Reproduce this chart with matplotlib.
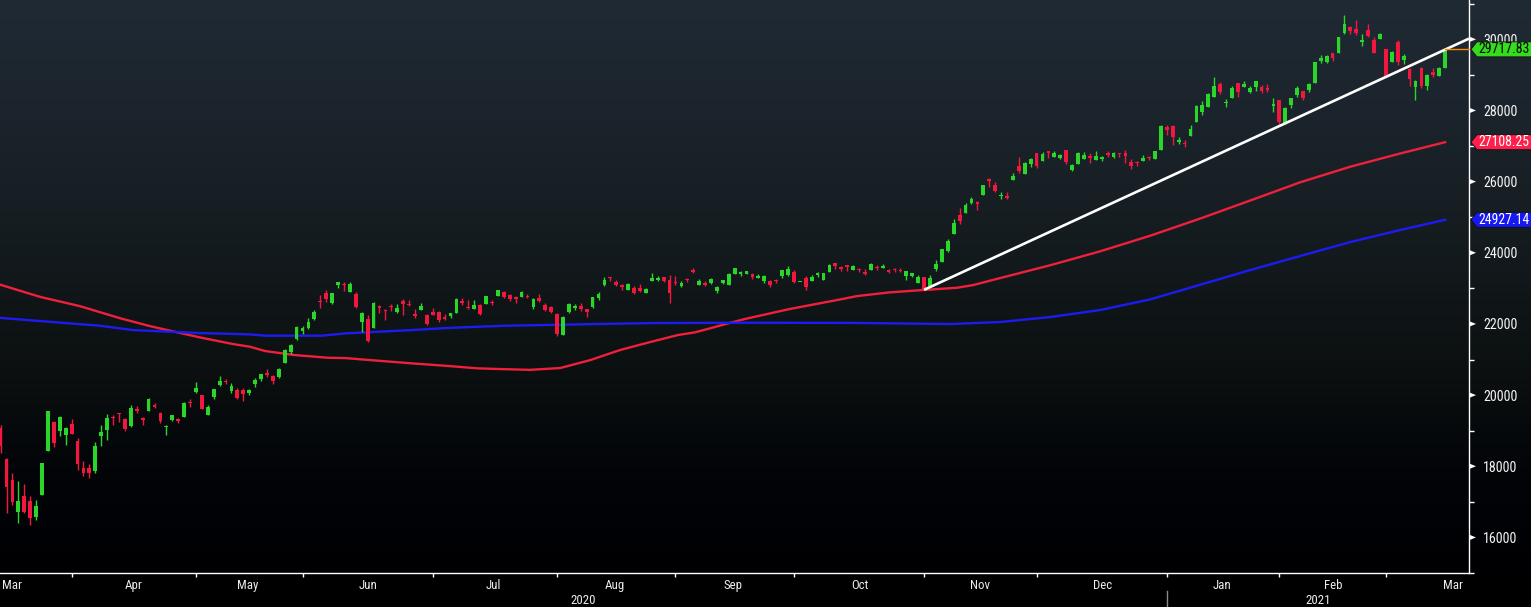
import numpy as np
import matplotlib
matplotlib.use("Agg")
import matplotlib.pyplot as plt
from matplotlib import font_manager
from matplotlib.patches import Polygon
from matplotlib.transforms import blended_transform_factory

# ---------------- data (trading-day index 0 = 12 Mar 2020 ... 244 = 12 Mar 2021) -------------
opens = [19080, 18200, 17600, 16712, 17162, 17022, 16582, 17200, 18435, 19240, 18990, 18875, 19185,
         18708, 17950, 17950, 17865, 18850, 19020, 19383, 19500, 19330, 19130, 19610, 19360, 19550,
         19730, 19500, 19100, 19290, 19340, 19380, 19800, 20080,
         20000, 19440, 19940, 20280, 20410, 20110, 20140, 20140, 20050, 20300, 20450, 20620, 20530,
         20500, 20910, 21210, 21575, 21790,
         21884, 22137, 22643, 22868, 22587, 23093, 23121, 22896, 22840, 22053, 22137, 21884, 22503,
         22390, 22503, 22334, 22643, 22560, 22278, 22390, 22250, 22334,
         22334, 22194, 22222, 22306, 22643, 22475, 22418, 22531, 22559, 22615, 22785, 22897, 22813,
         22756, 22756, 22784, 22475, 22728, 22531, 22475, 22279,
         21700, 22335, 22447, 22503, 22419, 22475, 22728, 23094, 23319, 23178, 23094, 22953, 23010,
         23010, 22869, 23206, 23234, 23319, 23234, 23150,
         23066, 23262, 23515, 23094, 23150, 23150, 22925, 23150, 23094, 23403, 23400, 23402, 23402,
         23290, 23206, 23206, 23234, 23346, 23374, 23458,
         23185, 23290, 23206, 23374, 23234, 23458, 23711, 23571, 23655, 23515, 23543, 23458, 23515,
         23599, 23571, 23515, 23543, 23515, 23346, 23346, 23150, 23318,
         23066, 23543, 23740, 24049, 24527, 25061, 25117, 25398, 25398, 25623, 26060, 25900, 25600,
         25600, 26045, 26438, 26214, 26495, 26804,
         26579, 26860, 26691, 26663, 26888, 26326, 26495, 26635, 26720, 26607, 26636, 26804, 26691,
         26790, 26804, 26551, 26551, 26579, 26691, 26635, 26888, 27535,
         27563, 27113, 27085, 27282, 27675, 27956, 28097, 28378, 28743, 28200, 28350, 28772, 28659,
         28519, 28659, 28659, 28631, 28125, 28294,
         27620, 28153, 28434, 28547, 28575, 28772, 29390, 29362, 29615, 29615, 30177, 30346, 30290,
         29924, 30262, 29980, 30009, 29728,
         29362, 29924, 29418, 29165, 28659, 29193, 28687, 29081, 28969, 29193]
highs = [19160, 18220, 17800, 17584, 17500, 17162, 17050, 18100, 19564, 19260, 19400, 19100, 19336,
         18790, 18160, 18050, 18680, 19150, 19470, 19440, 19510, 19360, 19720, 19680, 19383, 19920,
         19790, 19530, 19160, 19440, 19370, 19800, 19880, 20370,
         20010, 19720, 20180, 20530, 20450, 20330, 20200, 20200, 20180, 20470, 20600, 20720, 20560,
         20750, 21290, 21440, 21930, 21941,
         22165, 22390, 22812, 22952, 22870, 23180, 23177, 23177, 22896, 22334, 22250, 22615, 22531,
         22418, 22559, 22559, 22700, 22671, 22418, 22587, 22278, 22447,
         22362, 22278, 22306, 22728, 22728, 22671, 22671, 22559, 22784, 22671, 22953, 22925, 22840,
         22784, 22925, 22840, 22728, 22840, 22587, 22503, 22300,
         22230, 22590, 22560, 22590, 22420, 22760, 22897, 23318, 23320, 23234, 23122, 23150, 23066,
         23122, 23010, 23431, 23347, 23330, 23375, 23347,
         23206, 23290, 23571, 23262, 23206, 23290, 23066, 23240, 23420, 23571, 23480, 23487, 23430,
         23402, 23374, 23234, 23262, 23515, 23627, 23515,
         23185, 23346, 23374, 23458, 23420, 23683, 23711, 23627, 23655, 23655, 23571, 23543, 23711,
         23655, 23683, 23543, 23571, 23571, 23487, 23430, 23374, 23318,
         23374, 23795, 24105, 24390, 24950, 25258, 25398, 25567, 25455, 25910, 26100, 26000, 25700,
         25700, 26242, 26691, 26550, 26663, 26804,
         26832, 26860, 26860, 26776, 26888, 26495, 26832, 26832, 26804, 26860, 26720, 26860, 26832,
         26804, 26888, 26635, 26579, 26748, 26720, 26860, 27591, 27591,
         27591, 27254, 27170, 27591, 28150, 28265, 28490, 28940, 28800, 28322, 28688, 28772, 28828,
         28688, 28800, 28716, 28744, 28350, 28294,
         28097, 28350, 28687, 28547, 28772, 29362, 29559, 29559, 29615, 30065, 30683, 30374, 30543,
         30149, 30430, 30065, 30177, 29728,
         29671, 29980, 29587, 29193, 28856, 29221, 29025, 29193, 29221, 29699]
lows = [18360, 16690, 16920, 16411, 16680, 16358, 16490, 17180, 18420, 18530, 18860, 18600, 18903,
        17900, 17740, 17660, 17810, 18560, 18740, 19160, 19240, 19000, 19100, 19500, 19160, 19540,
        19650, 19230, 18880, 19280, 19220, 19380, 19660, 20050,
        19600, 19430, 19880, 20250, 20320, 20050, 19890, 19840, 20000, 20240, 20400, 20500, 20300,
        20480, 20900, 21160, 21560, 21716,
        21870, 22110, 22447, 22615, 22559, 23009, 22924, 22896, 22447, 21772, 21491, 21884, 22306,
        22109, 22362, 22306, 22250, 22500, 22165, 22390, 21969, 22250,
        22053, 22109, 22165, 22306, 22531, 22418, 22418, 22250, 22559, 22531, 22784, 22728, 22643,
        22587, 22756, 22728, 22420, 22616, 22363, 22307, 21650,
        21680, 22300, 22390, 22363, 22195, 22460, 22673, 23080, 23206, 23066, 22954, 22953, 22841,
        22897, 22869, 23206, 23206, 23178, 22588, 23094,
        23038, 23178, 23431, 23094, 23066, 23122, 22869, 23122, 23090, 23403, 23347, 23402, 23262,
        23290, 23150, 23037, 23150, 23290, 23346, 23150,
        23185, 22953, 23206, 23318, 23234, 23458, 23543, 23487, 23487, 23515, 23458, 23374, 23515,
        23515, 23571, 23430, 23458, 23458, 23234, 23318, 23150, 22948,
        23037, 23487, 23740, 24021, 24527, 24808, 25117, 25370, 25201, 25623, 25850, 25700, 25500,
        25500, 26045, 26242, 26214, 26410, 26382,
        26579, 26663, 26691, 26636, 26495, 26298, 26495, 26635, 26523, 26607, 26579, 26691, 26663,
        26691, 26523, 26354, 26438, 26579, 26600, 26635, 26888, 27310,
        27028, 27057, 26972, 27282, 27675, 27872, 28097, 28378, 28462, 28097, 28350, 28378, 28659,
        28491, 28547, 28491, 28519, 27956, 27620,
        27620, 28069, 28378, 28294, 28519, 28772, 29334, 29334, 29390, 29615, 30149, 30149, 30121,
        29812, 30065, 29615, 30009, 28969,
        29362, 29278, 29306, 28688, 28294, 28631, 28575, 28941, 28969, 29193]
closes = [18559, 17431, 17002, 17011, 16726, 16552, 16887, 18092, 19546, 18664, 19389, 19084, 18917,
          18065, 17818, 17820, 18576, 18950, 19353, 19345, 19470, 19043, 19638, 19550, 19290, 19897,
          19669, 19280, 19137, 19429, 19262, 19783, 19771, 20193,
          19619, 19674, 20179, 20390, 20366, 20267, 19915, 20037, 20133, 20433, 20595, 20552, 20388,
          20741, 21271, 21419, 21916, 21877,
          22062, 22325, 22613, 22695, 22863, 23178, 23091, 23124, 22473, 22305, 21530, 22582, 22455,
          22355, 22479, 22437, 22549, 22534, 22222, 22512, 21995, 22250,
          22122, 22145, 22306, 22714, 22587, 22438, 22529, 22291, 22784, 22587, 22945, 22770, 22696,
          22700, 22884, 22751, 22715, 22657, 22397, 22339, 21710,
          22195, 22573, 22514, 22418, 22329, 22750, 22843, 23249, 23289, 23096, 23051, 23110, 22880,
          22920, 22985, 23296, 23290, 23208, 22882, 23139,
          23138, 23247, 23465, 23205, 23089, 23274, 23032, 23235, 23406, 23559, 23454, 23475, 23319,
          23360, 23346, 23087, 23204, 23511, 23539, 23185,
          23185, 23029, 23312, 23433, 23422, 23647, 23619, 23558, 23601, 23626, 23507, 23410, 23671,
          23567, 23639, 23474, 23516, 23494, 23485, 23418, 23331, 22977,
          23295, 23695, 24105, 24325, 24839, 24905, 25349, 25520, 25385, 25906, 26014, 25728, 25634,
          25527, 26165, 26297, 26537, 26644, 26434,
          26787, 26800, 26809, 26751, 26547, 26467, 26817, 26756, 26652, 26732, 26687, 26757, 26806,
          26763, 26714, 26436, 26524, 26668, 26656, 26854, 27568, 27444,
          27258, 27158, 27055, 27490, 28139, 28164, 28456, 28698, 28519, 28242, 28633, 28523, 28757,
          28631, 28822, 28546, 28575, 28181, 27663,
          28069, 28350, 28631, 28341, 28744, 29362, 29475, 29531, 29475, 30065, 30430, 30234, 30177,
          29980, 30093, 29615, 30149, 28969,
          29643, 29362, 29531, 28884, 28828, 28687, 28997, 28997, 29193, 29717.83]

# 100-day (red) and 200-day (blue) moving averages
red_ma_idx = [0, 6.7, 13.4, 20.2, 25.2, 28.1, 33.7, 39.3, 42.1, 44.7, 49.7, 55.3, 58.2, 63.8, 69.5,
              75.1, 80.6, 84.4, 89.4, 94.5, 99.6, 104.6, 109.7, 114.4, 117.3, 120.2, 122.9, 125.7,
              133.3, 141.3, 144.7, 150.2, 155.8, 161.6, 164.3, 167.1, 177.3, 185.7, 194.2, 202.6,
              211.1, 219.5, 228, 236.4, 244]
red_ma_val = [23100, 22760, 22500, 22160, 21940, 21830, 21620, 21434, 21360, 21238, 21125, 21050,
              21041, 20966, 20892, 20825, 20752, 20732, 20710, 20760, 20984, 21265, 21490, 21688,
              21764, 21893, 22017, 22138, 22420, 22672, 22784, 22888, 22953, 23018, 23093, 23215,
              23650, 24040, 24480, 24960, 25470, 25980, 26420, 26790, 27108.25]
blue_ma_idx = [0, 8.3, 16.8, 22.4, 33.7, 42.1, 44.7, 54.3, 58.2, 63.8, 69.5, 75.1, 80.6, 85.2,
               100.4, 110.5, 125.7, 143.5, 160.4, 168.8, 177.3, 185.7, 194.2, 202.6, 211.1, 219.5,
               228, 236.4, 244]
blue_ma_val = [22170, 22060, 21950, 21827, 21744, 21707, 21670, 21670, 21735, 21781, 21828, 21884,
               21921, 21949, 21997, 22025, 22034, 22030, 21997, 22053, 22194, 22390, 22690, 23100,
               23515, 23908, 24302, 24640, 24927.14]

trend_idx = [156, 248.04]
trend_val = [22960, 30020]

month_labels = ['Mar', 'Apr', 'May', 'Jun', 'Jul', 'Aug', 'Sep', 'Oct', 'Nov', 'Dec', 'Jan', 'Feb', 'Mar']
year_labels = ['2020', '2021']
yticks_major = [16000, 18000, 20000, 22000, 24000, 26000, 28000, 30000]
yticks_minor = [15000, 17000, 19000, 21000, 23000, 25000, 27000, 29000, 31000]
last_price = 29717.83
red_ma_last = 27108.25
blue_ma_last = 24927.14

# ---------------- layout -------------
W, H = 1531, 607
AX_R = 1469
AX_B = 573
month_tick_pos = [12, 33, 51, 73, 94, 114, 134, 156, 175, 197, 216, 234]
month_label_pos = [2, 22.4, 41.8, 62.1, 83.3, 103.8, 123.7, 145.2, 165.4, 186.1, 206.3, 225.1, 245.3]
year_sep = 197
XMIN, XMAX = -0.1, 248.04
YMIN, YMAX = 15000, 31105

GREEN = '#2ad62a'
RED = '#f2173f'
MA_RED = '#f0203c'
MA_BLUE = '#1c1cf2'

fig = plt.figure(figsize=(W / 100, H / 100), dpi=100)
fig.patch.set_facecolor('black')
renderer = fig.canvas.get_renderer()


def pick_font():
    names = {f.name for f in font_manager.fontManager.ttflist}
    for n in ['Liberation Sans Narrow', 'Arial Narrow', 'Roboto Condensed', 'Noto Sans Condensed',
              'Open Sans Condensed', 'DejaVu Sans Condensed']:
        if n in names:
            return dict(family=n)
    for f in font_manager.fontManager.ttflist:
        if f.name in ('DejaVu Sans', 'Noto Sans', 'Roboto', 'Open Sans') and \
                'condensed' in str(f.stretch) and f.weight in (400, 'normal', 'regular'):
            return dict(family=f.name, stretch='condensed')
    return dict(family='DejaVu Sans')


FONT = pick_font()


def fit_size(sample, target_px, max_size):
    t = fig.text(0, 0, sample, fontproperties=font_manager.FontProperties(**FONT, size=10))
    w = t.get_window_extent(renderer).width
    t.remove()
    return min(max_size, 10 * target_px / w)


FS_TICK = fit_size('28000', 34, 11)
FS_TAG = fit_size('29717.83', 51, 11)
FS_MONTH = fit_size('Mar', 20, 10.6)

# background gradient
bg = fig.add_axes([0, 0, 1, 1], zorder=0)
bg.set_axis_off()
rows = np.arange(H)
stop_y = [0, 100, 200, 300, 380, 430, 480, 573]
stop_c = np.array([[32, 42, 52], [28, 37, 45], [23, 31, 36], [16, 22, 24], [11, 15, 16],
                   [6, 9, 11], [2, 4, 8], [0, 0, 2]], float)
img = np.zeros((H, 1, 3))
for c in range(3):
    img[:, 0, c] = np.interp(rows, stop_y, stop_c[:, c]) / 255.0
img[AX_B:] = 0
bg.imshow(img, aspect='auto', extent=[0, 1, 0, 1], interpolation='bilinear')
bg.set_xlim(0, 1)
bg.set_ylim(0, 1)

ax = fig.add_axes([0, (H - AX_B) / H, AX_R / W, AX_B / H], zorder=1)
ax.set_facecolor('none')
ax.set_xlim(XMIN, XMAX)
ax.set_ylim(YMIN, YMAX)

O = np.array(opens, float)
Hh = np.array(highs, float)
L = np.array(lows, float)
C = np.array(closes, float)
x = np.arange(len(C))
cols = np.where(C >= O, GREEN, RED)

ax.vlines(x, L, Hh, colors=cols, linewidth=1.0, zorder=3)
body_h = np.maximum(np.abs(C - O), 30)
ax.bar(x, body_h, bottom=np.minimum(O, C), width=0.64, color=cols, linewidth=0, zorder=4)

ax.plot(red_ma_idx, red_ma_val, color=MA_RED, lw=1.7, zorder=2)
ax.plot(blue_ma_idx, blue_ma_val, color=MA_BLUE, lw=1.7, zorder=2)
ax.plot(trend_idx, trend_val, color='white', lw=1.9, zorder=5, clip_on=False,
        solid_capstyle='butt')
ax.plot([len(C) - 1, XMAX], [last_price, last_price], color='#ff8c00', lw=1.0, zorder=5,
        clip_on=False)

for s in ['top', 'left']:
    ax.spines[s].set_visible(False)
for s in ['right', 'bottom']:
    ax.spines[s].set_color('white')
    ax.spines[s].set_linewidth(1.0)

# y axis on right
ax.yaxis.tick_right()
ax.set_yticks(yticks_major)
ax.set_yticklabels([str(v) for v in yticks_major])
ax.set_yticks(yticks_minor, minor=True)
ax.tick_params(axis='y', which='major', length=0, pad=10, labelcolor='#f4f4f4')
ax.tick_params(axis='y', which='minor', length=3.5, width=1, color='white', direction='out')
for lab in ax.get_yticklabels():
    lab.set_fontproperties(font_manager.FontProperties(**FONT, size=FS_TICK))
# arrow markers at major ticks (wide at the axis, pointing right)
tr_px = blended_transform_factory(fig.dpi_scale_trans, ax.transData)
for v in yticks_major:
    ax.add_patch(Polygon([[AX_R / 100, v + 80], [AX_R / 100, v - 80], [(AX_R + 7) / 100, v]],
                         closed=True, transform=tr_px, facecolor='white', edgecolor='none',
                         clip_on=False, zorder=6))

# x axis
ax.set_xticks(month_tick_pos)
ax.set_xticklabels([])
ax.tick_params(axis='x', which='major', length=3, width=1, color='white', direction='out')
tr_x = blended_transform_factory(ax.transData, fig.transFigure)
fp_month = font_manager.FontProperties(**FONT, size=FS_MONTH)
for pos, lab in zip(month_label_pos, month_labels):
    ax.text(pos, 1 - 585.5 / H, lab, transform=tr_x, ha='center', va='center', color='#ececec',
            fontproperties=fp_month, clip_on=False)
for pos, lab in zip([(XMIN + year_sep) / 2, (year_sep + XMAX) / 2], year_labels):
    ax.text(pos, 1 - 600.5 / H, lab, transform=tr_x, ha='center', va='center', color='#ececec',
            fontproperties=fp_month, clip_on=False)
ax.plot([year_sep, year_sep], [1 - 591 / H, 0], transform=tr_x, color='#8a8a8a', lw=1,
        clip_on=False)

# value tags on the right
fp_tag = font_manager.FontProperties(**FONT, size=FS_TAG)
half = 7.5 * (YMAX - YMIN) / AX_B
for val, fc, tc in [(last_price, '#35dc1e', 'black'), (red_ma_last, '#ff1f4b', 'white'),
                    (blue_ma_last, '#1818f0', 'white')]:
    pts = [[(AX_R + 2) / 100, val], [(AX_R + 8) / 100, val + half], [W / 100 + 0.05, val + half],
           [W / 100 + 0.05, val - half], [(AX_R + 8) / 100, val - half]]
    ax.add_patch(Polygon(pts, closed=True, transform=tr_px, facecolor=fc, edgecolor='#101010',
                         linewidth=0.6, clip_on=False, zorder=8))
    ax.text((AX_R + 9.5) / 100, val, f"{val:.2f}", transform=tr_px, ha='left', va='center',
            color=tc, fontproperties=fp_tag, clip_on=False, zorder=9)

fig.savefig('out.png', dpi=100, facecolor='black')
